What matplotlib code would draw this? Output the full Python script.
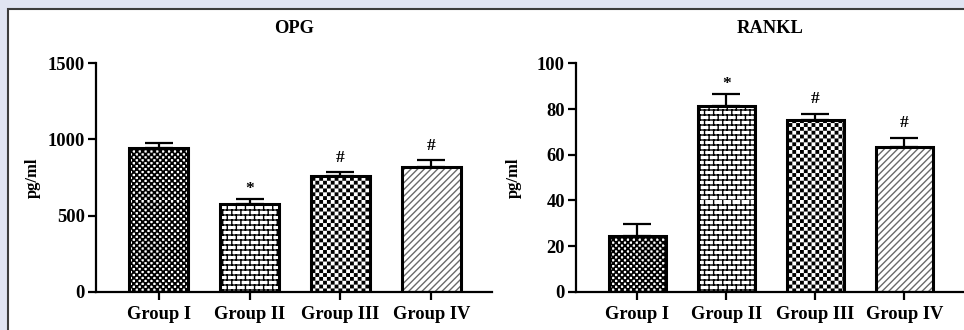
import warnings
import matplotlib
matplotlib.use('Agg')
import matplotlib.pyplot as plt
import numpy as np
from matplotlib import hatch as mhatch
from matplotlib.path import Path
from matplotlib.patches import Rectangle

warnings.filterwarnings('ignore')

# данные
groups = ['Group I', 'Group II', 'Group III', 'Group IV']
opg_mean = [945, 575, 760, 820]
opg_err = [35, 35, 27, 45]
opg_marks = ['', '*', '#', '#']
rankl_mean = [24.5, 81.5, 75, 63.5]
rankl_err = [5, 5.2, 3, 4]
rankl_marks = ['', '*', '#', '#']
opg_ticks = [0, 500, 1000, 1500]
rankl_ticks = [0, 20, 40, 60, 80, 100]
bar_hatches = ['c', 'b', 'k', '/////']
hatch_colors = ['black', 'black', 'black', '#6a6a6a']


# свои штриховки: шахматка (c - мелкая, k - крупная) и кирпич (b)
class CheckerHatch(mhatch.HatchPatternBase):
    def __init__(self, hatch, density):
        if 'c' in hatch:
            self.n, self.inset = 34, 0.004
        elif 'k' in hatch:
            self.n, self.inset = 26, 0.007
        else:
            self.n, self.inset = 0, 0
        self.num_vertices = (self.n * self.n // 2) * 5

    def set_vertices_and_codes(self, vertices, codes):
        n = self.n
        s = 1.0 / n
        d = self.inset
        k = 0
        for i in range(n):
            for j in range(n):
                if (i + j) % 2 == 0:
                    x0, y0 = i * s + d, j * s + d
                    x1, y1 = (i + 1) * s - d, (j + 1) * s - d
                    vertices[k:k + 5] = [[x0, y0], [x1, y0], [x1, y1], [x0, y1], [x0, y0]]
                    codes[k:k + 5] = [Path.MOVETO, Path.LINETO, Path.LINETO,
                                      Path.LINETO, Path.CLOSEPOLY]
                    k += 5


class BrickHatch(mhatch.HatchPatternBase):
    def __init__(self, hatch, density):
        self.nr = 20 if 'b' in hatch else 0
        self.nc = 11
        self.num_vertices = 2 * self.nr + 2 * self.nr * self.nc

    def set_vertices_and_codes(self, vertices, codes):
        nr, nc = self.nr, self.nc
        k = 0
        for i in range(nr):
            y = i / nr
            vertices[k:k + 2] = [[0, y], [1, y]]
            codes[k:k + 2] = [Path.MOVETO, Path.LINETO]
            k += 2
            for j in range(nc):
                x = (j + 0.5 * (i % 2)) / nc
                vertices[k:k + 2] = [[x, y], [x, y + 1.0 / nr]]
                codes[k:k + 2] = [Path.MOVETO, Path.LINETO]
                k += 2


mhatch._hatch_types.append(CheckerHatch)
mhatch._hatch_types.append(BrickHatch)

plt.rcParams['font.family'] = ['Liberation Serif', 'DejaVu Serif']
plt.rcParams['font.weight'] = 'bold'
plt.rcParams['hatch.linewidth'] = 1.0

fig = plt.figure(figsize=(9.64, 3.30), dpi=100)
fig.patch.set_facecolor('#e0e4f2')

# белая панель с рамкой
fig.patches.append(Rectangle((8 / 964, -0.1), 1.2, (330 - 9) / 330 + 0.1,
                             transform=fig.transFigure, facecolor='white',
                             edgecolor='#3c3c3c', linewidth=1.5, zorder=-1))

ax1 = fig.add_axes([0.0996, 0.116, 0.411, 0.692])
ax2 = fig.add_axes([0.5975, 0.116, 0.4025, 0.692])

x = np.arange(len(groups))

panels = [
    (ax1, opg_mean, opg_err, opg_marks, 'OPG', opg_ticks),
    (ax2, rankl_mean, rankl_err, rankl_marks, 'RANKL', rankl_ticks),
]

for ax, means, errs, marks, title, ticks in panels:
    ax.set_facecolor('none')
    # заливка штриховкой
    fills = ax.bar(x, means, width=0.645, color='white', linewidth=0, zorder=2)
    for b, h, c in zip(fills, bar_hatches, hatch_colors):
        b.set_edgecolor(c)
        b.set_hatch(h)
    # контур столбцов
    ax.bar(x, means, width=0.645, fill=False, edgecolor='black',
           linewidth=2.2, zorder=2.5)
    ax.errorbar(x, means, yerr=[np.zeros(len(errs)), errs], fmt='none',
                ecolor='black', elinewidth=1.6, capsize=10, capthick=1.6, zorder=3)
    for xi, m, e, mk in zip(x, means, errs, marks):
        if mk:
            off = 1.5 if mk == '*' else 4.5
            ax.annotate(mk, (xi, m + e), xytext=(0, off), textcoords='offset points',
                        ha='center', va='bottom', fontsize=12.5, fontweight='bold')

    ax.set_xlim(-0.69, 3.67)
    ax.set_ylim(ticks[0], ticks[-1])
    ax.set_yticks(ticks)
    ax.set_xticks(x)
    ax.set_xticklabels(groups)
    ax.set_title(title, fontsize=13.3, fontweight='bold', pad=22)
    ax.set_ylabel('pg/ml', fontsize=12, fontweight='bold')
    ax.yaxis.set_label_coords(-0.14, 0.5)

    for side in ['top', 'right']:
        ax.spines[side].set_visible(False)
    for side in ['left', 'bottom']:
        ax.spines[side].set_linewidth(1.6)
    ax.tick_params(axis='both', length=6, width=1.6, labelsize=13.3)
    ax.tick_params(axis='x', pad=4)
    ax.tick_params(axis='y', pad=2)

fig.savefig('out.png', dpi=100, facecolor=fig.get_facecolor())
